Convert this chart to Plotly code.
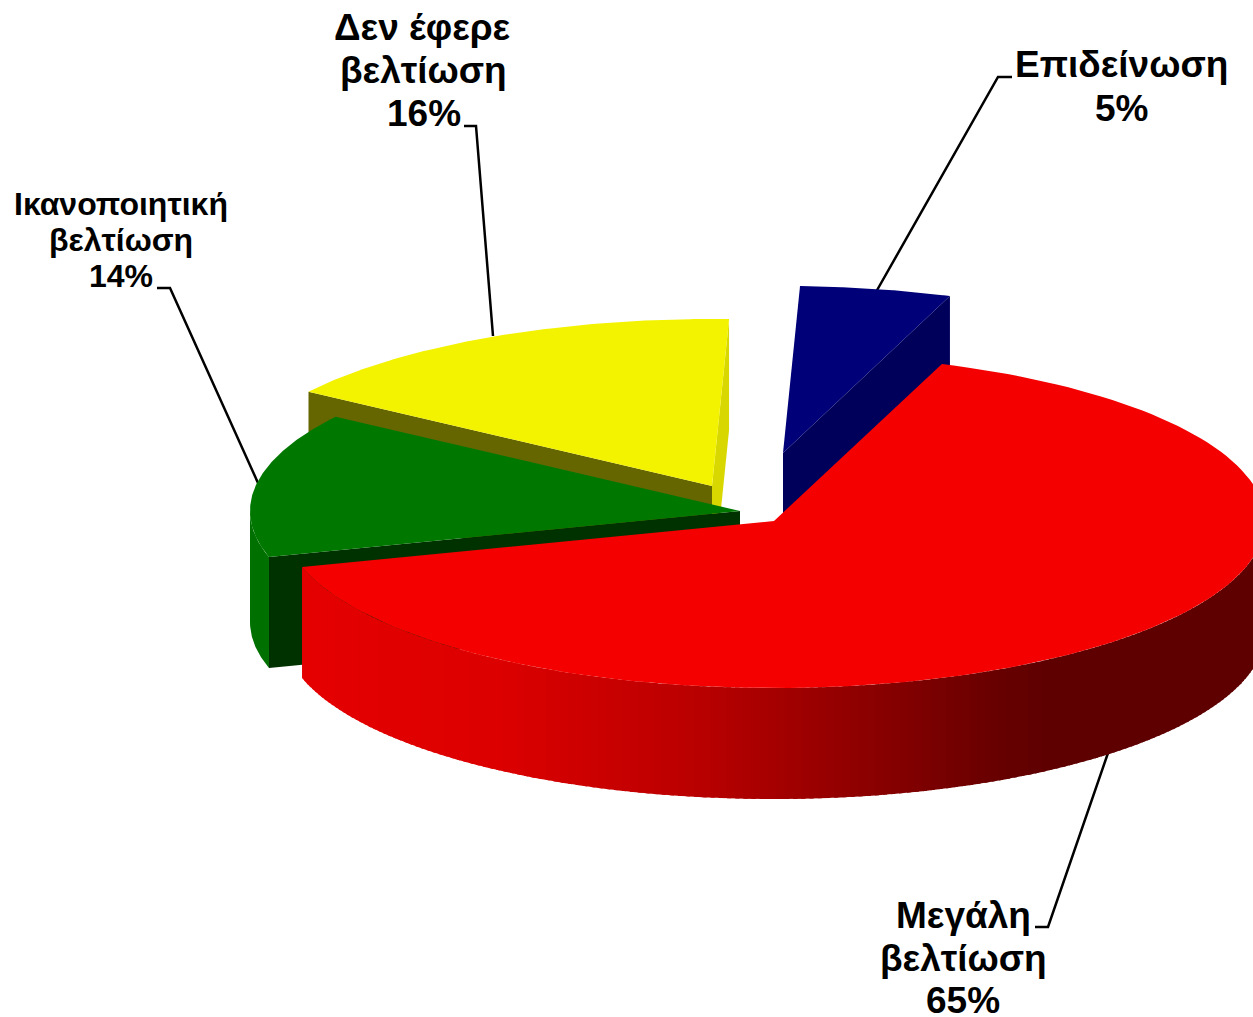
import math
import numpy as np
import plotly.graph_objects as go

# ---- data ----
categories = ["Μεγάλη βελτίωση", "Επιδείνωση", "Δεν έφερε βελτίωση", "Ικανοποιητική βελτίωση"]
category_lines = [["Μεγάλη", "βελτίωση"], ["Επιδείνωση"], ["Δεν έφερε", "βελτίωση"], ["Ικανοποιητική", "βελτίωση"]]
values = [65, 5, 16, 14]

# ---- drawing geometry (pixels) ----
W, H = 1253, 1017
RY, DEPTH = 167, 111
START_ANGLE = 70.0
apex = {"red": (774, 521), "blue": (783, 453), "yellow": (712, 486), "green": (740, 511)}
radius_x = {"red": 491, "blue": 488, "yellow": 489, "green": 490}

# slices run clockwise from the start angle: red, then green, yellow, blue
total = sum(values)
sweep = {c: v / total * 360 for c, v in zip(categories, values)}
red_end = START_ANGLE - sweep[categories[0]]
green_end = red_end - sweep[categories[3]]
yellow_end = green_end - sweep[categories[2]]
blue_end = yellow_end - sweep[categories[1]]

C = {
    "red": "rgb(245,0,0)", "blue": "rgb(0,0,120)", "blue_side": "rgb(0,0,90)",
    "yellow": "rgb(243,243,0)", "yellow_side": "rgb(102,102,0)", "yellow_end": "rgb(216,216,0)",
    "green": "rgb(0,120,0)", "green_rim": "rgb(0,112,0)", "green_side": "rgb(0,50,0)",
}
# red rim shading by screen x
shade_x = [302, 500, 700, 860, 1000, 1045, 1253]
shade_r = [229, 220, 185, 142, 103, 95, 95]

fig = go.Figure()


def poly(xs, ys, color):
    fig.add_trace(go.Scatter(x=list(xs), y=list(ys), mode="lines", fill="toself", fillcolor=color,
                             line=dict(width=0, color=color), hoverinfo="skip", showlegend=False))


def pt(name, t, dz=0):
    a = math.radians(t)
    cx, cy = apex[name]
    return cx + radius_x[name] * math.cos(a), cy - RY * math.sin(a) + dz


def arc(name, t0, t1, n=140, dz=0):
    return [pt(name, t, dz) for t in np.linspace(t0, t1, n)]


def top(name, t0, t1, color):
    p = [apex[name]] + arc(name, t0, t1)
    poly([q[0] for q in p], [q[1] for q in p], color)


def side(name, t, color):
    r = pt(name, t)
    c = apex[name]
    p = [c, r, (r[0], r[1] + DEPTH), (c[0], c[1] + DEPTH)]
    poly([q[0] for q in p], [q[1] for q in p], color)


def rim(name, t0, t1, color):
    p = arc(name, t0, t1, 60) + arc(name, t1, t0, 60, DEPTH)
    poly([q[0] for q in p], [q[1] for q in p], color)


# leader lines
leaders = [
    ([1012, 998, 876], [77, 77, 292]),
    ([464, 476, 493], [126, 126, 336]),
    ([157, 170, 258], [288, 288, 483]),
    ([1035, 1048, 1108], [927, 927, 753]),
]
for lx, ly in leaders:
    fig.add_trace(go.Scatter(x=lx, y=ly, mode="lines", line=dict(color="black", width=2.5),
                             hoverinfo="skip", showlegend=False))

# blue
side("blue", START_ANGLE, C["blue_side"])
top("blue", yellow_end, blue_end, C["blue"])
# yellow
side("yellow", yellow_end, C["yellow_end"])
side("yellow", green_end, C["yellow_side"])
top("yellow", green_end, yellow_end, C["yellow"])
# green
side("green", red_end, C["green_side"])
rim("green", -180, red_end, C["green_rim"])
top("green", red_end, green_end, C["green"])
# red rim gradient, as overlapping strips
N = 170
ts = np.linspace(red_end, 0, N + 1)
for i in range(N):
    t0, t1 = ts[i], min(ts[i + 1] + 0.5, 0)
    xm = pt("red", (ts[i] + ts[i + 1]) / 2)[0]
    r = int(round(np.interp(xm, shade_x, shade_r)))
    rim("red", t0, t1, f"rgb({r},0,0)")
top("red", red_end, START_ANGLE, C["red"])

# labels: (slice index, font size, centre x, centre y of each line)
label_layout = [
    (0, 37, [963, 963, 963], [915, 958, 1000]),
    (1, 37, [1121, 1121], [64, 108]),
    (2, 37, [422, 423, 424], [27, 70, 113]),
    (3, 32, [121, 121, 121], [204, 240, 276]),
]
ann = []
for idx, size, xs, ys in label_layout:
    lines = category_lines[idx] + [f"{values[idx]}%"]
    for text, x, y in zip(lines, xs, ys):
        ann.append(dict(x=x, y=y, xref="x", yref="y", text=f"<b>{text}</b>", showarrow=False,
                        xanchor="center", yanchor="middle",
                        font=dict(family="Liberation Sans", size=size, color="black")))

fig.update_layout(
    width=W, height=H, margin=dict(l=0, r=0, t=0, b=0),
    paper_bgcolor="white", plot_bgcolor="white", showlegend=False, annotations=ann,
    xaxis=dict(range=[0, W], visible=False, fixedrange=True),
    yaxis=dict(range=[H, 0], visible=False, fixedrange=True),
)
fig.write_html("out.html", config={"displayModeBar": False},
               post_script="document.body.style.margin='0';document.body.style.overflow='hidden';")
